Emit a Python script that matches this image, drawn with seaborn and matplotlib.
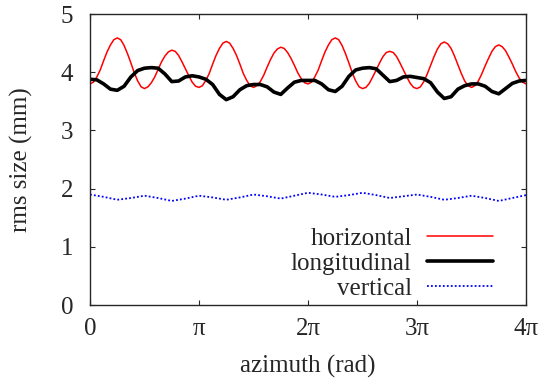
import numpy as np
import pandas as pd
import matplotlib
matplotlib.use('Agg')
import matplotlib.pyplot as plt
import seaborn as sns

# rms beam sizes
# horizontal: every pi/32, longitudinal: every pi/16, vertical: every pi/8
horizontal = [3.80, 3.83, 3.92, 4.04, 4.20, 4.35, 4.47, 4.56,
              4.59, 4.56, 4.46, 4.32, 4.16, 3.99, 3.85, 3.75,
              3.72, 3.75, 3.82, 3.92, 4.05, 4.18, 4.28, 4.35,
              4.38, 4.36, 4.29, 4.18, 4.06, 3.94, 3.83, 3.76,
              3.74, 3.77, 3.86, 3.98, 4.14, 4.29, 4.41, 4.50,
              4.53, 4.50, 4.41, 4.29, 4.14, 3.98, 3.86, 3.77,
              3.74, 3.77, 3.84, 3.95, 4.09, 4.22, 4.33, 4.40,
              4.43, 4.41, 4.34, 4.24, 4.12, 3.99, 3.89, 3.82,
              3.80, 3.83, 3.92, 4.04, 4.20, 4.35, 4.47, 4.56,
              4.59, 4.56, 4.46, 4.32, 4.16, 3.99, 3.85, 3.75,
              3.72, 3.74, 3.81, 3.92, 4.04, 4.16, 4.27, 4.34,
              4.36, 4.34, 4.27, 4.16, 4.04, 3.92, 3.81, 3.74,
              3.72, 3.75, 3.84, 3.97, 4.12, 4.27, 4.40, 4.49,
              4.52, 4.49, 4.41, 4.28, 4.13, 3.98, 3.85, 3.77,
              3.74, 3.77, 3.85, 3.97, 4.11, 4.24, 4.36, 4.44,
              4.47, 4.44, 4.37, 4.26, 4.14, 4.01, 3.90, 3.83,
              3.80]
longitudinal = [3.88, 3.87, 3.80, 3.71, 3.69, 3.76, 3.92, 4.03, 4.07,
                4.08, 4.07, 3.97, 3.84, 3.85, 3.92, 3.94, 3.92,
                3.88, 3.79, 3.62, 3.53, 3.58, 3.70, 3.77, 3.79,
                3.79, 3.75, 3.66, 3.62, 3.73, 3.83, 3.86, 3.86,
                3.86, 3.80, 3.70, 3.67, 3.76, 3.93, 4.04, 4.07,
                4.08, 4.06, 3.95, 3.84, 3.86, 3.92, 3.93, 3.91,
                3.89, 3.82, 3.66, 3.55, 3.58, 3.71, 3.77, 3.80,
                3.80, 3.76, 3.67, 3.63, 3.72, 3.81, 3.85, 3.86]
vertical = [1.90, 1.86, 1.81, 1.84, 1.88, 1.84, 1.79, 1.83, 1.88,
            1.85, 1.81, 1.85, 1.90, 1.87, 1.83, 1.88, 1.93,
            1.90, 1.86, 1.89, 1.93, 1.89, 1.84, 1.87, 1.90,
            1.86, 1.81, 1.84, 1.88, 1.84, 1.79, 1.84, 1.89]

x_h = np.arange(len(horizontal)) * np.pi / 32
x_l = np.arange(len(longitudinal)) * np.pi / 16
x_v = np.arange(len(vertical)) * np.pi / 8

xticks = [0, np.pi, 2 * np.pi, 3 * np.pi, 4 * np.pi]
xticklabels = ['0', 'π', '2π', '3π', '4π']
yticks = [0, 1, 2, 3, 4, 5]

sns.set_style('ticks')
plt.rcParams['font.family'] = ['Liberation Serif', 'DejaVu Serif']

fig = plt.figure(figsize=(5.41, 3.80), dpi=100)
ax = fig.add_axes([0.1664, 0.197, 0.8059, 0.766])

sns.lineplot(x=x_h, y=horizontal, ax=ax, color='#ff0000', lw=1.1, label='horizontal')
sns.lineplot(x=x_l, y=longitudinal, ax=ax, color='black', lw=2.6, label='longitudinal')
sns.lineplot(x=x_v, y=vertical, ax=ax, color='#0000ff', lw=1.3, ls=(0, (1, 1.2)), label='vertical')
for ln in ax.lines:
    ln.set_solid_joinstyle('round')

ax.set_xlim(0, 4 * np.pi)
ax.set_ylim(0, 5)
ax.set_xticks(xticks)
ax.set_xticklabels(xticklabels)
ax.set_yticks(yticks)
ax.tick_params(direction='in', top=True, right=True, length=3.5, width=0.8,
               labelsize=18)
ax.tick_params(axis='x', pad=9)
ax.tick_params(axis='y', pad=12)
for s in ax.spines.values():
    s.set_linewidth(1.0)

ax.set_xlabel('azimuth (rad)', fontsize=18, labelpad=11)
ax.set_ylabel('rms size (mm)', fontsize=18, labelpad=20)

ax.legend(loc='lower right', frameon=False, markerfirst=False, fontsize=18,
          handlelength=2.65, handletextpad=0.6, labelspacing=0.1,
          borderpad=0, bbox_to_anchor=(0.953, -0.025))

fig.savefig('out.png', dpi=100)
